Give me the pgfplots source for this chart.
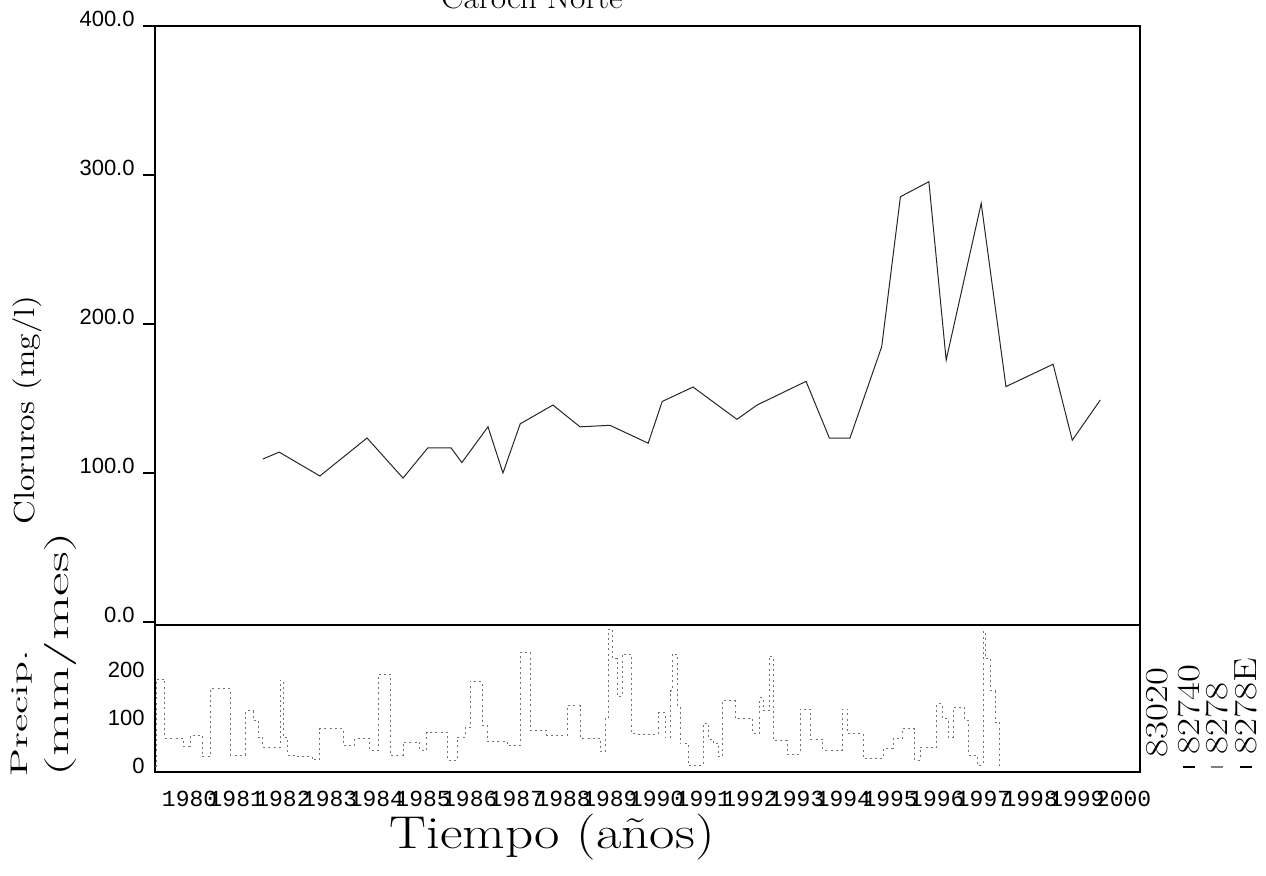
\documentclass[border=0pt]{standalone}
\usepackage{pgfplots}
\pgfplotsset{compat=1.18}
\usepackage{fontspec}
\newfontfamily\sansf{Liberation Sans}
\newfontfamily\monof{Liberation Mono}
\pgfplotstableread{
x y
1981.57 109.4
1981.92 114.0
1982.79 98.0
1983.80 123.5
1984.57 96.6
1985.10 116.8
1985.60 116.8
1985.83 107.0
1986.39 131.0
1986.71 100.0
1987.08 133.0
1987.78 145.6
1988.36 131.0
1989.00 132.0
1989.82 120.0
1990.12 148.0
1990.78 157.7
1991.72 136.0
1992.15 145.6
1993.20 161.5
1993.70 123.4
1994.14 123.4
1994.82 184.8
1995.22 285.4
1995.83 295.5
1996.20 175.8
1996.95 281.0
1997.48 158.0
1998.49 173.0
1998.90 122.0
1999.50 149.0
}\cloruros
\pgfplotstableread{
x y
1979.26 0
1979.28 181
1979.47 58
1979.86 41
1980.01 64
1980.27 19
1980.44 161
1980.87 23
1981.19 115
1981.36 95
1981.47 60
1981.57 39
1981.94 179
1982.00 60
1982.09 23
1982.30 20
1982.62 13
1982.79 78
1983.05 78
1983.29 43
1983.54 58
1983.86 33
1984.04 192
1984.29 23
1984.57 50
1984.93 33
1985.08 70
1985.53 12
1985.73 60
1985.90 80
1986.01 177
1986.26 85
1986.37 52
1986.80 43
1987.08 237
1987.29 74
1987.65 64
1988.08 126
1988.36 58
1988.79 30
1988.90 101
1988.96 285
1989.05 225
1989.15 146
1989.26 233
1989.47 68
1989.60 66
1990.03 111
1990.18 60
1990.29 157
1990.33 233
1990.44 124
1990.50 47
1990.67 2
1991.00 89
1991.10 56
1991.21 48
1991.32 19
1991.40 136
1991.68 99
1992.06 68
1992.21 142
1992.28 115
1992.41 229
1992.49 54
1992.79 25
1993.07 119
1993.29 56
1993.56 33
1993.97 119
1994.08 68
1994.42 16
1994.85 37
1995.06 58
1995.26 78
1995.53 12
1995.64 39
1996.00 130
1996.11 99
1996.24 60
1996.35 122
1996.60 95
1996.67 23
1996.86 2
1996.99 280
1997.03 225
1997.14 157
1997.25 91
1997.35 0
}\precip
\begin{document}
\begin{tikzpicture}[x=1pt,y=1pt]
\useasboundingbox (0,0) rectangle (633,438);
% upper axis
\begin{axis}[
  scale only axis, width=492.5pt, height=299.5pt,
  at={(77.5pt,125.5pt)}, anchor=south west,
  xmin=1979.26, xmax=2000.35, ymin=-2, ymax=400,
  xtick=\empty,
  ytick={0,100,200,300,400},
  yticklabels={0.0,100.0,200.0,300.0,400.0},
  ytick pos=left, tick align=outside, major tick length=6pt,
  yticklabel style={font=\sansf\fontsize{11}{13}\selectfont, anchor=south east, inner sep=0pt, xshift=-4pt, yshift=-0.5pt},
  tick style={line width=0.6pt, black},
  axis line style={line width=1pt},
]
\addplot[black!85, line width=0.5pt] table[x=x,y=y] {\cloruros};
\end{axis}
% lower axis
\begin{axis}[
  scale only axis, width=492.5pt, height=73.5pt,
  at={(77.5pt,52pt)}, anchor=south west,
  xmin=1979.26, xmax=2000.35, ymin=-12.5, ymax=294,
  xtick={1980,1981,1982,1983,1984,1985,1986,1987,1988,1989,1990,1991,1992,1993,1994,1995,1996,1997,1998,1999,2000},
  xticklabels={1980,1981,1982,1983,1984,1985,1986,1987,1988,1989,1990,1991,1992,1993,1994,1995,1996,1997,1998,1999,2000},
  xticklabel style={font=\monof\fontsize{11.5}{13}\selectfont, anchor=center, yshift=-13.5pt},
  ytick={0,100,200}, yticklabels={0,100,200},
  yticklabel style={font=\sansf\fontsize{11}{13}\selectfont, anchor=east, inner sep=0pt, xshift=-5pt},
  tick style={draw=none},
  axis line style={line width=1pt},
]
\addplot[const plot, black!55, line width=0.4pt, dash pattern=on 1pt off 1.6pt] table[x=x,y=y] {\precip};
\end{axis}
% title and labels
\node[anchor=base, font=\fontsize{15.5}{16}\selectfont] at (266,433.5) {\scalebox{1.08}[1]{Caroch Norte}};
\node[rotate=90, inner sep=0pt, font=\fontsize{14.5}{15}\selectfont] at (13.75,233) {\scalebox{1.16}[1]{Cloruros (mg/l)}};
\node[rotate=90, anchor=west, inner sep=0pt, font=\fontsize{12}{12}\selectfont] at (11,49.5) {\scalebox{1.75}[1]{Precip.}};
\node[rotate=90, anchor=west, inner sep=0pt, font=\fontsize{16}{16}\selectfont] at (30.5,49.5) {\scalebox{1.8}[1]{(mm/mes)}};
\node[anchor=base, font=\fontsize{23}{23}\selectfont] at (276,13.5) {\scalebox{1.2}[1]{Tiempo (años)}};
% station labels
\node[rotate=90, anchor=west, inner sep=0pt, font=\fontsize{16}{16}\selectfont] at (578.5,59) {\scalebox{1.22}[1]{83020}};
\node[rotate=90, anchor=west, inner sep=0pt, font=\fontsize{16}{16}\selectfont] at (594.5,60.5) {\scalebox{1.22}[1]{82740}};
\node[rotate=90, anchor=west, inner sep=0pt, font=\fontsize{16}{16}\selectfont] at (608.5,60.5) {\scalebox{1.22}[1]{8278}};
\node[rotate=90, anchor=west, inner sep=0pt, font=\fontsize{16}{16}\selectfont] at (623,60.5) {\scalebox{1.22}[1]{8278E}};
\draw[line width=1pt, black] (591.5,54.5) -- (597.5,54.5);
\draw[line width=1pt, black!50] (605.5,54.5) -- (611.5,54.5);
\draw[line width=1pt, black] (620,54.5) -- (626,54.5);
\end{tikzpicture}
\end{document}
